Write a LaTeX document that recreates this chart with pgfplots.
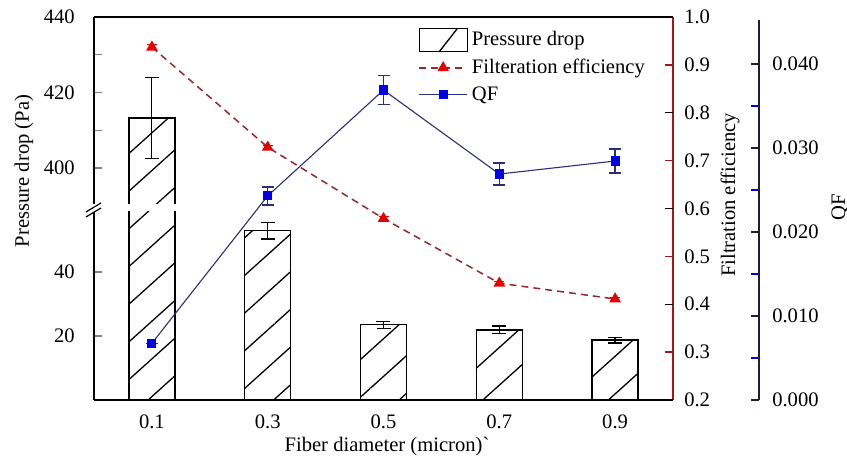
\documentclass[border=0pt]{standalone}
\usepackage{pgfplots}
\pgfplotsset{compat=1.18}
\usepackage{fontspec}
\setmainfont{Liberation Serif}
\usetikzlibrary{patterns.meta}
\definecolor{effline}{RGB}{150,40,40}
\definecolor{effmark}{RGB}{230,0,0}
\definecolor{qfline}{RGB}{45,45,120}
\definecolor{qfmark}{RGB}{0,0,230}
\definecolor{raxis}{RGB}{170,20,20}
\definecolor{qaxis}{RGB}{30,30,60}
\pgfplotsset{
  base/.style={
    scale only axis, width=289.5pt, xmin=-0.5, xmax=4.5,
    anchor=south west,
    scaled y ticks=false, scaled x ticks=false,
    /pgf/number format/assume math mode=true,
    tick label style={font=\fontsize{10.3}{12}\selectfont},
    tick align=inside,
    major tick length=4pt, minor tick length=4pt,
    axis line style={line width=0.65pt},
    every tick/.append style={line width=0.65pt},
  },
  barstyle/.style={ybar, bar width=23pt, draw=black, line width=0.65pt,
    pattern={Lines[angle=42,distance=14pt,line width=0.65pt]},
    error bars/.cd, y dir=both, y explicit,
    error bar style={black, line width=0.6pt},
    error mark options={rotate=90, mark size=3.5pt, black, line width=0.6pt}},
}
\begin{document}
\fontsize{10.3}{12}\selectfont
\begin{tikzpicture}
\useasboundingbox (0,0) rectangle (423.5pt,229pt);
% lower part of pressure axis
\begin{axis}[base, at={(47pt,29pt)}, height=94pt, ymin=0, ymax=58.75,
  axis x line*=bottom, axis y line*=left,
  xtick={0,1,2,3,4}, xticklabels={0.1,0.3,0.5,0.7,0.9},
  xtick style={draw=none},
  xticklabel style={yshift=-4pt},
  ytick={20,40}, yticklabel style={xshift=-6pt},
]
\addplot[barstyle] coordinates {(0,413.3) +- (0,0) (1,52.9) +- (0,2.6) (2,23.5) +- (0,1.1) (3,21.9) +- (0,1.2) (4,18.7) +- (0,0.9)};
\end{axis}
% upper part of pressure axis
\begin{axis}[base, at={(47pt,127pt)}, height=93.5pt, ymin=390.5, ymax=440,
  axis x line*=top, axis y line*=left, xtick=\empty,
  ytick={400,420,440}, minor ytick={410,430}, yticklabel style={xshift=-6pt}]
\addplot[ybar, bar width=23pt, draw=none, pattern={Lines[angle=42,distance=14pt,line width=0.65pt]}] coordinates {(0,413.3)};
\addplot[black, line width=0.65pt, sharp plot, mark=none] coordinates {(-0.1986,380) (-0.1986,413.3) (0.1986,413.3) (0.1986,380)};
\addplot[black, draw=none, mark=none, error bars/.cd, y dir=both, y explicit,
    error bar style={black, line width=0.6pt},
    error mark options={rotate=90, mark size=3.5pt, black, line width=0.6pt}] coordinates {(0,413.3) +- (0,10.7)};
\end{axis}
% filtration efficiency axis
\begin{axis}[base, at={(47pt,29pt)}, height=191.5pt, ymin=0.2, ymax=1.0,
  axis x line=none, axis y line*=right,
  y axis line style={raxis},
  ytick={0.3,0.5,0.7,0.9}, yticklabels={0.3,0.5,0.7,0.9},
  every major y tick/.append style={raxis},
  extra y ticks={0.2,0.4,0.6,0.8,1.0}, extra y tick labels={0.2,0.4,0.6,0.8,1.0},
  extra y tick style={every major y tick/.append style={black}},
  yticklabel style={xshift=2pt},
]
\addplot[effline, line width=0.75pt, dash pattern=on 3.5pt off 2.5pt, mark=triangle*, mark size=2.6pt,
  mark options={solid, fill=effmark, draw=effmark},
  error bars/.cd, y dir=both, y explicit, error bar style={effmark, solid, line width=0.6pt},
  error mark options={rotate=90, mark size=2.5pt, effmark, solid}]
  coordinates {(0,0.937) +- (0,0.005) (1,0.728) +- (0,0.004) (2,0.579) +- (0,0.004) (3,0.444) +- (0,0.004) (4,0.411) +- (0,0.004)};
\end{axis}
% QF scale axis
\begin{axis}[base, width=50pt, anchor=south east, at={(379.5pt,29pt)}, height=190pt,
  ymin=0, ymax=0.04524, xmin=0, xmax=1,
  axis x line=none, axis y line*=right, y axis line style={qaxis},
  ytick={0,0.01,0.02,0.03,0.04}, yticklabels={0.000,0.010,0.020,0.030,0.040},
  minor ytick={0.005,0.015,0.025,0.035},
  every major y tick/.append style={qaxis}, every minor y tick/.append style={qfmark},
  yticklabel style={xshift=3pt}]
\addplot[draw=none] coordinates {(0,0)};
\end{axis}
% QF data axis with legend
\begin{axis}[base, at={(47pt,29pt)}, height=190pt, ymin=0, ymax=0.04524, hide axis,
  legend style={at={(0.5596,0.981)}, anchor=north west, draw=none, fill=none,
    inner sep=0pt, font=\fontsize{10.3}{12}\selectfont, row sep=1pt,
    /tikz/every even column/.append style={column sep=7pt}},
  legend cell align=left,
  legend image code/.code={\draw[mark repeat=2,mark phase=2] plot coordinates {(0pt,0pt) (12pt,0pt) (24pt,0pt)};}]
\addlegendimage{legend image code/.code={\draw[black, line width=0.65pt] (0pt,-5.75pt) rectangle (24pt,5.75pt); \draw[black,line width=0.65pt] (10pt,-5.75pt) -- (19pt,5.75pt);}}
\addlegendimage{effline, line width=0.75pt, dash pattern=on 3.5pt off 2.5pt, mark=triangle*, mark size=2.6pt, mark options={solid, fill=effmark, draw=effmark}}
\addplot[qfline, line width=0.55pt, mark=square*, mark size=2pt, mark options={fill=qfmark, draw=qfmark},
  error bars/.cd, y dir=both, y explicit, error bar style={qfline, line width=0.7pt},
  error mark options={rotate=90, mark size=3pt, qfline, line width=0.7pt}]
  coordinates {(0,0.00675) +- (0,0) (1,0.0243) +- (0,0.00107) (2,0.0369) +- (0,0.00175) (3,0.0269) +- (0,0.0013) (4,0.02845) +- (0,0.00145)};
\legend{Pressure drop, Filteration efficiency, QF}
\end{axis}
\begin{scope}[x=0.5pt,y=0.5pt]
% axis break marks
\draw[line width=0.6pt] (86,246) -- (101,255);
\draw[line width=0.6pt] (86,241) -- (101,250);
% labels
\node[rotate=90] at (24,287) {Pressure drop (Pa)};
\node at (387,11) {Fiber diameter (micron)\textasciigrave};
\node[rotate=90] at (730,263) {Filtration efficiency};
\node[rotate=90] at (840,251) {QF};
\end{scope}
\end{tikzpicture}
\end{document}
